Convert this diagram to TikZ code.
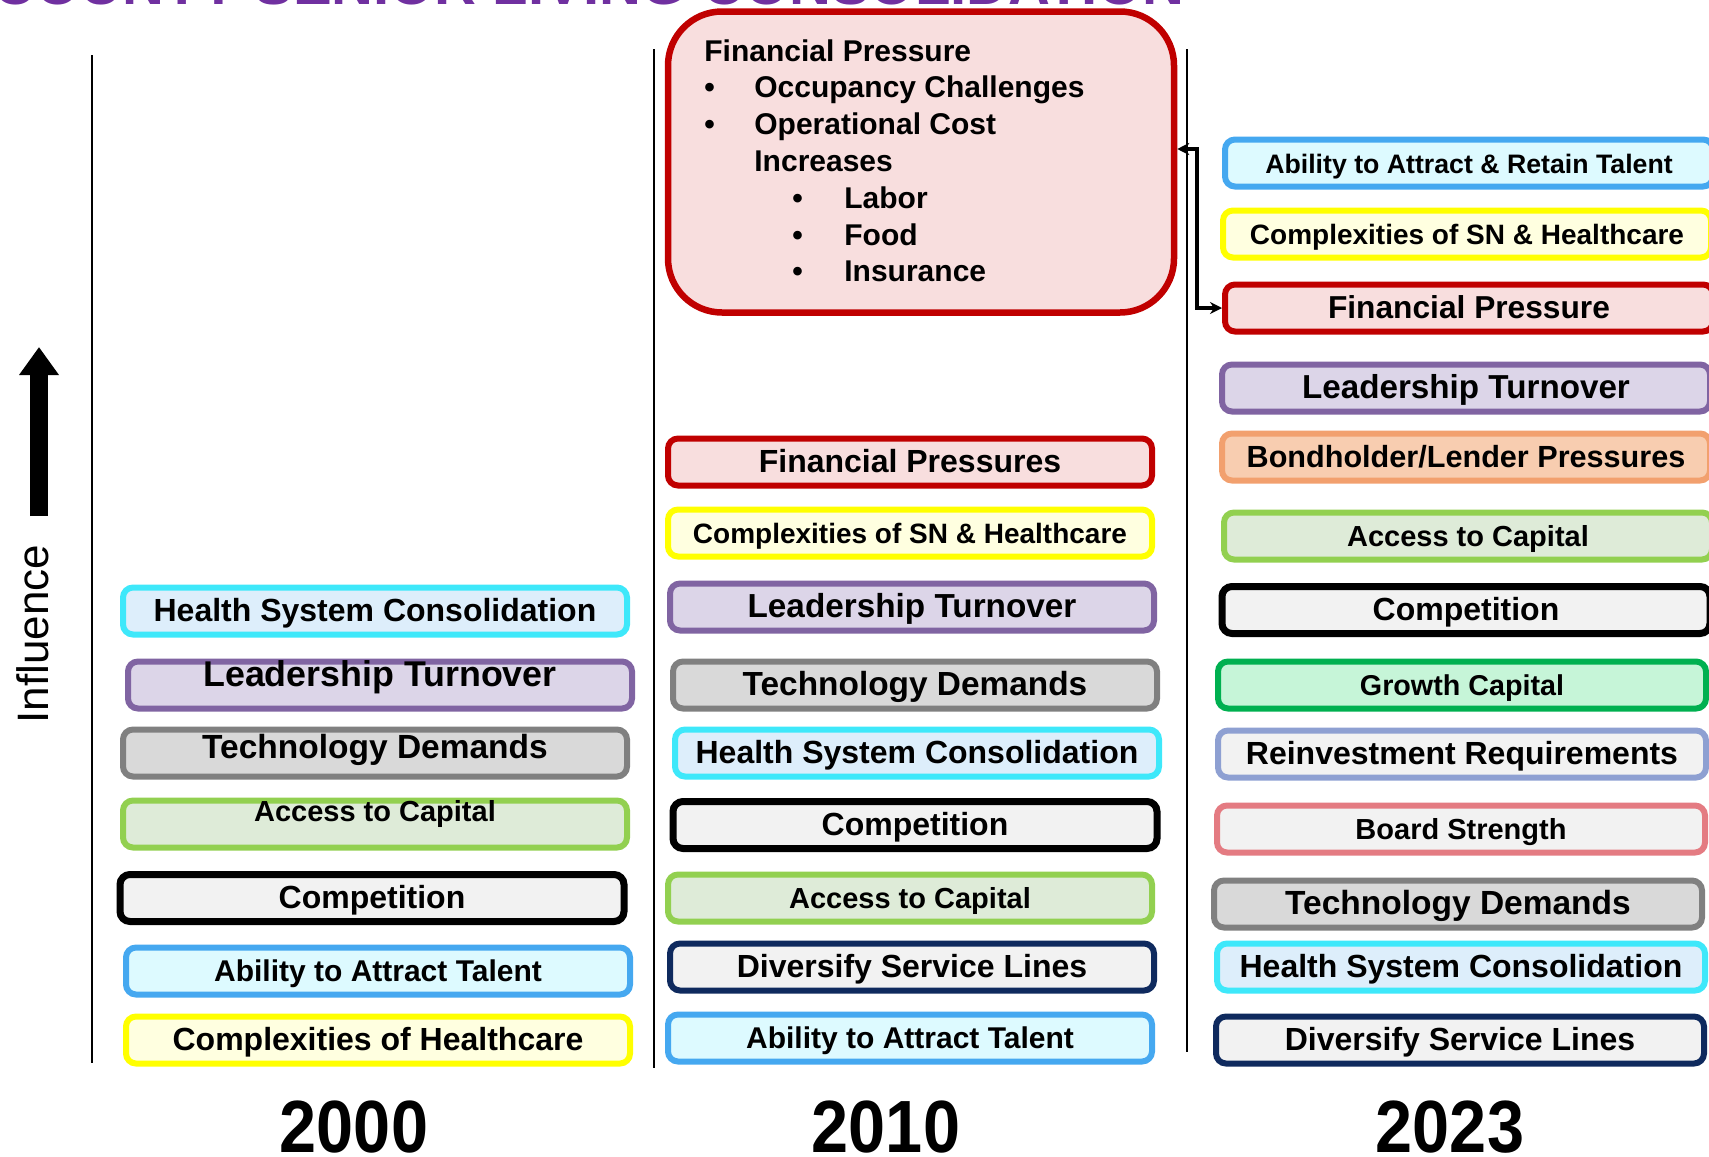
\documentclass[tikz,border=0pt]{standalone}
\usepackage{fontspec}
\setmainfont{Liberation Sans}
\usetikzlibrary{arrows}
\usetikzlibrary{arrows.meta}
\usetikzlibrary{positioning}

\definecolor{titlepurple}{HTML}{7030A0}
\definecolor{fpred}{HTML}{C00000}
\definecolor{fppink}{HTML}{F8DEDE}
\definecolor{snyellow}{HTML}{FFFF00}
\definecolor{snfill}{HTML}{FFFFE0}
\definecolor{ltpurple}{HTML}{8064A2}
\definecolor{ltfill}{HTML}{DCD5E8}
\definecolor{tdgray}{HTML}{808080}
\definecolor{tdfill}{HTML}{D9D9D9}
\definecolor{hscyan}{HTML}{3EE8FA}
\definecolor{hsfill}{HTML}{DDEEFB}
\definecolor{acgreen}{HTML}{92D050}
\definecolor{acfill}{HTML}{DEEBD8}
\definecolor{cofill}{HTML}{F2F2F2}
\definecolor{atblue}{HTML}{45A8F0}
\definecolor{atfill}{HTML}{DDFAFF}
\definecolor{dsnavy}{HTML}{0F2A5E}
\definecolor{blorange}{HTML}{F2A06E}
\definecolor{blfill}{HTML}{F8CDB0}
\definecolor{gcgreen}{HTML}{00B050}
\definecolor{gcfill}{HTML}{C6F5D8}
\definecolor{rrblue}{HTML}{8EA0D2}
\definecolor{bsred}{HTML}{E47B82}

\newcommand{\fsz}[1]{\bfseries\fontsize{#1}{#1}\selectfont}

\tikzset{
  factor/.style={draw, rounded corners=5pt, line width=3pt, minimum height=23.5pt,
    text height=11pt, text depth=1pt, inner sep=0pt, font=\fsz{16}},
  colA/.style={factor, minimum width=252pt},
  colB/.style={factor, minimum width=242pt},
  colC/.style={factor, minimum width=244pt},
  redbox/.style={draw=fpred, fill=fppink},
  yellowbox/.style={draw=snyellow, fill=snfill},
  purplebox/.style={draw=ltpurple, fill=ltfill},
  graybox/.style={draw=tdgray, fill=tdfill},
  cyanbox/.style={draw=hscyan, fill=hsfill},
  greenbox/.style={draw=acgreen, fill=acfill},
  blackbox/.style={draw=black, fill=cofill, line width=3.5pt},
  bluebox/.style={draw=atblue, fill=atfill},
  navybox/.style={draw=dsnavy, fill=cofill},
  orangebox/.style={draw=blorange, fill=blfill},
  growthbox/.style={draw=gcgreen, fill=gcfill},
  reinvbox/.style={draw=rrblue, fill=cofill},
  boardbox/.style={draw=bsred, fill=cofill},
  year/.style={inner sep=0pt, font=\fsz{37}}
}

\begin{document}
\begin{tikzpicture}[x=0.5pt, y=-0.5pt]
\useasboundingbox (0,0) rectangle (1709,1157);

% title (cut off at the top)
\node[anchor=base east, inner sep=0pt, text=titlepurple, font=\fsz{29}] (title) at (1185,4) {COUNTY SENIOR LIVING CONSOLIDATION};

% columns
\draw[line width=0.9pt] (92,55) -- (92,1063);
\draw[line width=0.9pt] (654,49) -- (654,1068);
\draw[line width=0.9pt] (1187,49) -- (1187,1052);

% influence axis
\draw[line width=9pt, -{Triangle[width=19pt,length=14pt]}] (39,516) -- (39,347);
\node[rotate=90, inner sep=0pt, font=\fontsize{22}{22}\selectfont] (influence) at (33,634) {Influence};

% 2000
\node[colA, cyanbox] (hsc00) at (375,611) {Health System Consolidation};
\node[colA, purplebox, font=\fsz{17.9}] (lt00) at (380,685) {\raisebox{4.5pt}{Leadership Turnover}};
\node[colA, graybox, font=\fsz{16.75}] (td00) at (375,753) {\raisebox{2.5pt}{Technology Demands}};
\node[colA, greenbox, font=\fsz{14.5}] (ac00) at (375,824) {\raisebox{6.5pt}{Access to Capital}};
\node[colA, blackbox] (co00) at (372,898) {Competition};
\node[colA, bluebox, font=\fsz{15}] (at00) at (378,971) {Ability to Attract Talent};
\node[colA, yellowbox] (ch00) at (378,1040) {Complexities of Healthcare};

% 2010
\node[colB, redbox] (fp10) at (910,462) {Financial Pressures};
\node[colB, yellowbox, font=\fsz{14}] (sn10) at (910,533) {Complexities of SN \& Healthcare};
\node[colB, purplebox, font=\fsz{16.65}] (lt10) at (912,607) {Leadership Turnover};
\node[colB, graybox, font=\fsz{16.7}] (td10) at (915,685) {Technology Demands};
\node[colB, cyanbox] (hsc10) at (917,753) {Health System Consolidation};
\node[colB, blackbox] (co10) at (915,825) {Competition};
\node[colB, greenbox, font=\fsz{14.5}] (ac10) at (910,898) {Access to Capital};
\node[colB, navybox] (ds10) at (912,967) {Diversify Service Lines};
\node[colB, bluebox, font=\fsz{15}] (at10) at (910,1038) {Ability to Attract Talent};

% financial pressure detail
\node[draw=fpred, fill=fppink, line width=3.25pt, rounded corners=27pt,
  minimum width=253pt, minimum height=150.5pt] (fpbig) at (921,162) {};
\node[anchor=north west, inner sep=0pt, align=left, font=\bfseries\fontsize{15}{18.4}\selectfont] (fplist) at (704,39) {%
Financial Pressure\\
\makebox[25pt][l]{\textbullet}Occupancy Challenges\\
\makebox[25pt][l]{\textbullet}Operational Cost\\
\hspace*{25pt}Increases\\
\hspace*{44pt}\makebox[26pt][l]{\textbullet}Labor\\
\hspace*{44pt}\makebox[26pt][l]{\textbullet}Food\\
\hspace*{44pt}\makebox[26pt][l]{\textbullet}Insurance};

% 2023
\node[colC, bluebox, font=\fsz{13.35}] (at23) at (1469,163) {Ability to Attract \& Retain Talent};
\node[colC, yellowbox, font=\fsz{14}] (sn23) at (1467,234) {Complexities of SN \& Healthcare};
\node[colC, redbox, font=\fsz{15.85}] (fp23) at (1469,308) {Financial Pressure};
\node[colC, purplebox, font=\fsz{16.6}] (lt23) at (1466,388) {Leadership Turnover};
\node[colC, orangebox, font=\fsz{15.3}] (bl23) at (1466,457) {Bondholder/Lender Pressures};
\node[colC, greenbox, font=\fsz{14.5}] (ac23) at (1468,536) {Access to Capital};
\node[colC, blackbox] (co23) at (1466,610) {Competition};
\node[colC, growthbox, font=\fsz{14.35}] (gc23) at (1462,685) {Growth Capital};
\node[colC, reinvbox] (rr23) at (1462,754) {Reinvestment Requirements};
\node[colC, boardbox, font=\fsz{14.5}] (bs23) at (1461,829) {Board Strength};
\node[colC, graybox, font=\fsz{16.75}] (td23) at (1458,904) {Technology Demands};
\node[colC, cyanbox] (hsc23) at (1461,967) {Health System Consolidation};
\node[colC, navybox] (ds23) at (1460,1040) {Diversify Service Lines};

% link
\draw[{Stealth[length=6pt,width=6pt]}-{Stealth[length=6pt,width=6pt]}, line width=2pt] ([yshift=6.5pt]fpbig.east) -- ++(20,0) |- (fp23.west);

% years
\node[year] (y2000) at (354,1127) {\scalebox{0.9}[1]{2000}};
\node[year] (y2010) at (886,1127) {\scalebox{0.9}[1]{2010}};
\node[year] (y2023) at (1450,1127) {\scalebox{0.9}[1]{2023}};
\end{tikzpicture}
\end{document}
